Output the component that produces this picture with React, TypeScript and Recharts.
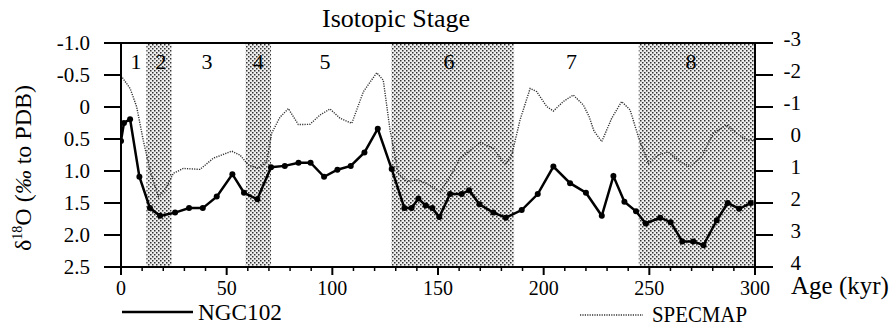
import { ComposedChart, Line, XAxis, YAxis, ReferenceArea, ReferenceLine, ReferenceDot } from 'recharts';

const FONT = 'Liberation Serif, DejaVu Serif, serif';

// NGC102 core, d18O (left axis, per mil)
const ngcAge = [0, 1.4, 4.3, 8.7, 13.7, 18.5, 25.6, 32.2, 38.7, 45.3, 52.7, 58.2, 64.5, 71.0, 77.5, 84.0, 89.7, 96.1, 102.4, 108.7, 115.2, 121.5, 128.1, 134.1, 137.5, 140.7, 144.2, 147.3, 150.6, 155.7, 161.2, 164.7, 169.6, 176.2, 182.1, 189.6, 197.2, 204.6, 212.5, 220.0, 227.5, 233.0, 238.2, 243.7, 248.3, 255.1, 260.1, 265.6, 270.8, 275.6, 281.9, 287.1, 292.5, 298.0];
const ngcD18O = [0.53, 0.25, 0.19, 1.09, 1.58, 1.7, 1.65, 1.58, 1.58, 1.4, 1.05, 1.34, 1.44, 0.94, 0.92, 0.87, 0.87, 1.09, 0.98, 0.92, 0.71, 0.34, 0.97, 1.58, 1.58, 1.43, 1.54, 1.58, 1.72, 1.36, 1.36, 1.3, 1.52, 1.65, 1.73, 1.61, 1.36, 0.93, 1.19, 1.34, 1.7, 1.08, 1.48, 1.63, 1.82, 1.73, 1.8, 2.1, 2.1, 2.16, 1.77, 1.5, 1.59, 1.5];

// SPECMAP stack (right axis)
const specAge = [0, 4.3, 7.4, 10.5, 13.7, 17.7, 20.8, 24.8, 29.5, 37.4, 43.7, 52.4, 56.3, 60.2, 65, 68.9, 71.3, 75.2, 79.2, 83.9, 89.4, 94.2, 98.9, 103.6, 109.2, 114.7, 121, 124.1, 127.3, 131.2, 135.2, 139.9, 144.7, 151, 155.7, 160.4, 169.9, 176.2, 181.7, 184.9, 188.8, 193.6, 196.7, 201.5, 204.6, 209.3, 214, 218.8, 221.5, 223.8, 227.5, 232.2, 236.9, 240.9, 244.8, 249.6, 254.3, 259, 264.6, 269.3, 274.8, 280.3, 286.6, 291.3, 296.1, 300];
const specD18O = [-1.98, -1.58, -1.01, 0.03, 0.97, 1.8, 1.59, 1.07, 0.92, 0.95, 0.6, 0.38, 0.5, 0.81, 0.92, 0.71, -0.18, -0.68, -0.95, -0.45, -0.46, -0.75, -0.94, -0.65, -0.49, -1.48, -2.07, -1.84, -0.28, 1.07, 1.33, 1.28, 1.39, 1.65, 1.18, 0.6, 0.11, 0.29, 0.81, 0.5, -0.59, -1.58, -1.48, -1.01, -0.875, -1.17, -1.375, -1.06, -0.7, -0.25, 0.08, -0.65, -1.17, -0.91, -0.07, 0.76, 0.5, 0.4, 0.71, 0.87, 0.55, -0.18, -0.44, -0.18, 0.03, 0.03];

// glacial (even) stages shaded
const bandStart = [12, 59, 128, 245];
const bandEnd = [24, 71, 186, 300];

const stageNames = ['1', '2', '3', '4', '5', '6', '7', '8'];
const stageAge = [7.1, 18.9, 40.7, 64.9, 96.5, 155.2, 213.2, 269.7];

const leftTicks = [-1, -0.5, 0, 0.5, 1, 1.5, 2, 2.5];
const rightTicks = [-3, -2, -1, 0, 1, 2, 3, 4];
const ageTicks = [0, 10, 20, 30, 40, 50, 60, 70, 80, 90, 100, 110, 120, 130, 140, 150, 160, 170, 180, 190, 200, 210, 220, 230, 240, 250, 260, 270, 280, 290, 300];

const ngcData = ngcAge.map((a, i) => ({ age: a, v: ngcD18O[i] }));
const specData = specAge.map((a, i) => ({ age: a, v: specD18O[i] }));

const txt = { fontFamily: FONT };

function AgeTick(props: any) {
  const { x, y, payload } = props;
  const major = payload.value % 50 === 0;
  return (
    <g>
      <line x1={x} x2={x} y1={y} y2={y + (major ? 8 : 4)} stroke="#000" strokeWidth={major ? 2 : 1.5} />
      {major && (
        <text x={x} y={y + 28} textAnchor="middle" fontSize={20} style={txt} fill="#000">
          {payload.value}
        </text>
      )}
    </g>
  );
}

function LeftTick(props: any) {
  const { x, y, payload } = props;
  const v = payload.value as number;
  return (
    <text x={x} y={y} dy="0.33em" textAnchor="end" fontSize={21} style={txt} fill="#000">
      {v === 0 ? '0' : v.toFixed(1)}
    </text>
  );
}

function RightTick(props: any) {
  const { x, y, payload } = props;
  return (
    <text x={x + 28} y={y} dy="0.12em" textAnchor="end" fontSize={21} style={txt} fill="#000">
      {payload.value}
    </text>
  );
}

export default function App() {
  return (
    <div style={{ position: 'absolute', left: 0, top: 0, width: 894, height: 327, background: '#fff' }}>
      <ComposedChart width={894} height={327} margin={{ top: 43, right: 0, bottom: 35, left: 0 }}>
        <defs>
          <pattern id="stipple" width={4} height={4} patternUnits="userSpaceOnUse">
            <rect width={4} height={4} fill="#eeeeee" />
            <rect x={0} y={0} width={1.5} height={1.5} fill="#333" />
            <rect x={2} y={2} width={1.5} height={1.5} fill="#333" />
          </pattern>
        </defs>
        {bandStart.map((s, i) => (
          <ReferenceArea key={i} x1={s} x2={bandEnd[i]} yAxisId="left" fill="url(#stipple)" fillOpacity={1} stroke="none" />
        ))}
        <XAxis
          dataKey="age"
          type="number"
          domain={[0, 300]}
          ticks={ageTicks}
          interval={0}
          height={25}
          tickSize={0}
          tickMargin={0}
          tickLine={false}
          tick={<AgeTick />}
          axisLine={{ stroke: '#000', strokeWidth: 2 }}
          allowDataOverflow
        />
        <YAxis
          yAxisId="left"
          width={121}
          domain={[-1, 2.5]}
          reversed
          ticks={leftTicks}
          interval={0}
          tickSize={17}
          tickMargin={14}
          tick={<LeftTick />}
          tickLine={{ stroke: '#000', strokeWidth: 2 }}
          axisLine={{ stroke: '#000', strokeWidth: 2 }}
          allowDataOverflow
        />
        <YAxis
          yAxisId="right"
          orientation="right"
          width={139}
          domain={[-3, 4]}
          reversed
          ticks={rightTicks}
          interval={0}
          tickSize={18}
          tickMargin={0}
          tick={<RightTick />}
          tickLine={{ stroke: '#000', strokeWidth: 2 }}
          axisLine={{ stroke: '#000', strokeWidth: 2 }}
          allowDataOverflow
        />
        <ReferenceLine yAxisId="left" y={-1} stroke="#000" strokeWidth={2} />
        {stageNames.map((n, i) => (
          <ReferenceDot
            key={n}
            yAxisId="left"
            x={stageAge[i]}
            y={-0.72}
            r={0}
            fill="none"
            stroke="none"
            label={{ value: n, position: 'center', fontSize: 22, style: txt, fill: '#000' }}
          />
        ))}
        <Line
          yAxisId="right"
          data={specData}
          dataKey="v"
          type="linear"
          stroke="#333"
          strokeWidth={1.4}
          strokeDasharray="1.2 1.2"
          dot={false}
          isAnimationActive={false}
        />
        <Line
          yAxisId="left"
          data={ngcData}
          dataKey="v"
          type="linear"
          stroke="#000"
          strokeWidth={2.5}
          dot={{ r: 3, fill: '#000', stroke: '#000', strokeWidth: 0 }}
          isAnimationActive={false}
        />
      </ComposedChart>
      <svg width={894} height={327} style={{ position: 'absolute', left: 0, top: 0, pointerEvents: 'none', fontFamily: FONT }}>
        <text x={396} y={27} textAnchor="middle" fontSize={26} fill="#000">Isotopic Stage</text>
        <text transform="translate(31,168) rotate(-90)" textAnchor="middle" fontSize={24} fill="#000">
          δ<tspan fontSize={14} dy={-9}>18</tspan><tspan dy={9}>O (</tspan><tspan fontStyle="italic">‰</tspan> to PDB)
        </text>
        <text x={791} y={294} fontSize={25} fill="#000">Age (kyr)</text>
        <line x1={122} x2={193} y1={312} y2={312} stroke="#000" strokeWidth={2.5} />
        <text x={198} y={320} fontSize={24} fill="#000" textLength={84} lengthAdjust="spacingAndGlyphs">NGC102</text>
        <line x1={580} x2={643} y1={315} y2={315} stroke="#333" strokeWidth={1.4} strokeDasharray="1.2 1.2" />
        <text x={652} y={322} fontSize={24} fill="#000" textLength={95} lengthAdjust="spacingAndGlyphs">SPECMAP</text>
      </svg>
    </div>
  );
}
